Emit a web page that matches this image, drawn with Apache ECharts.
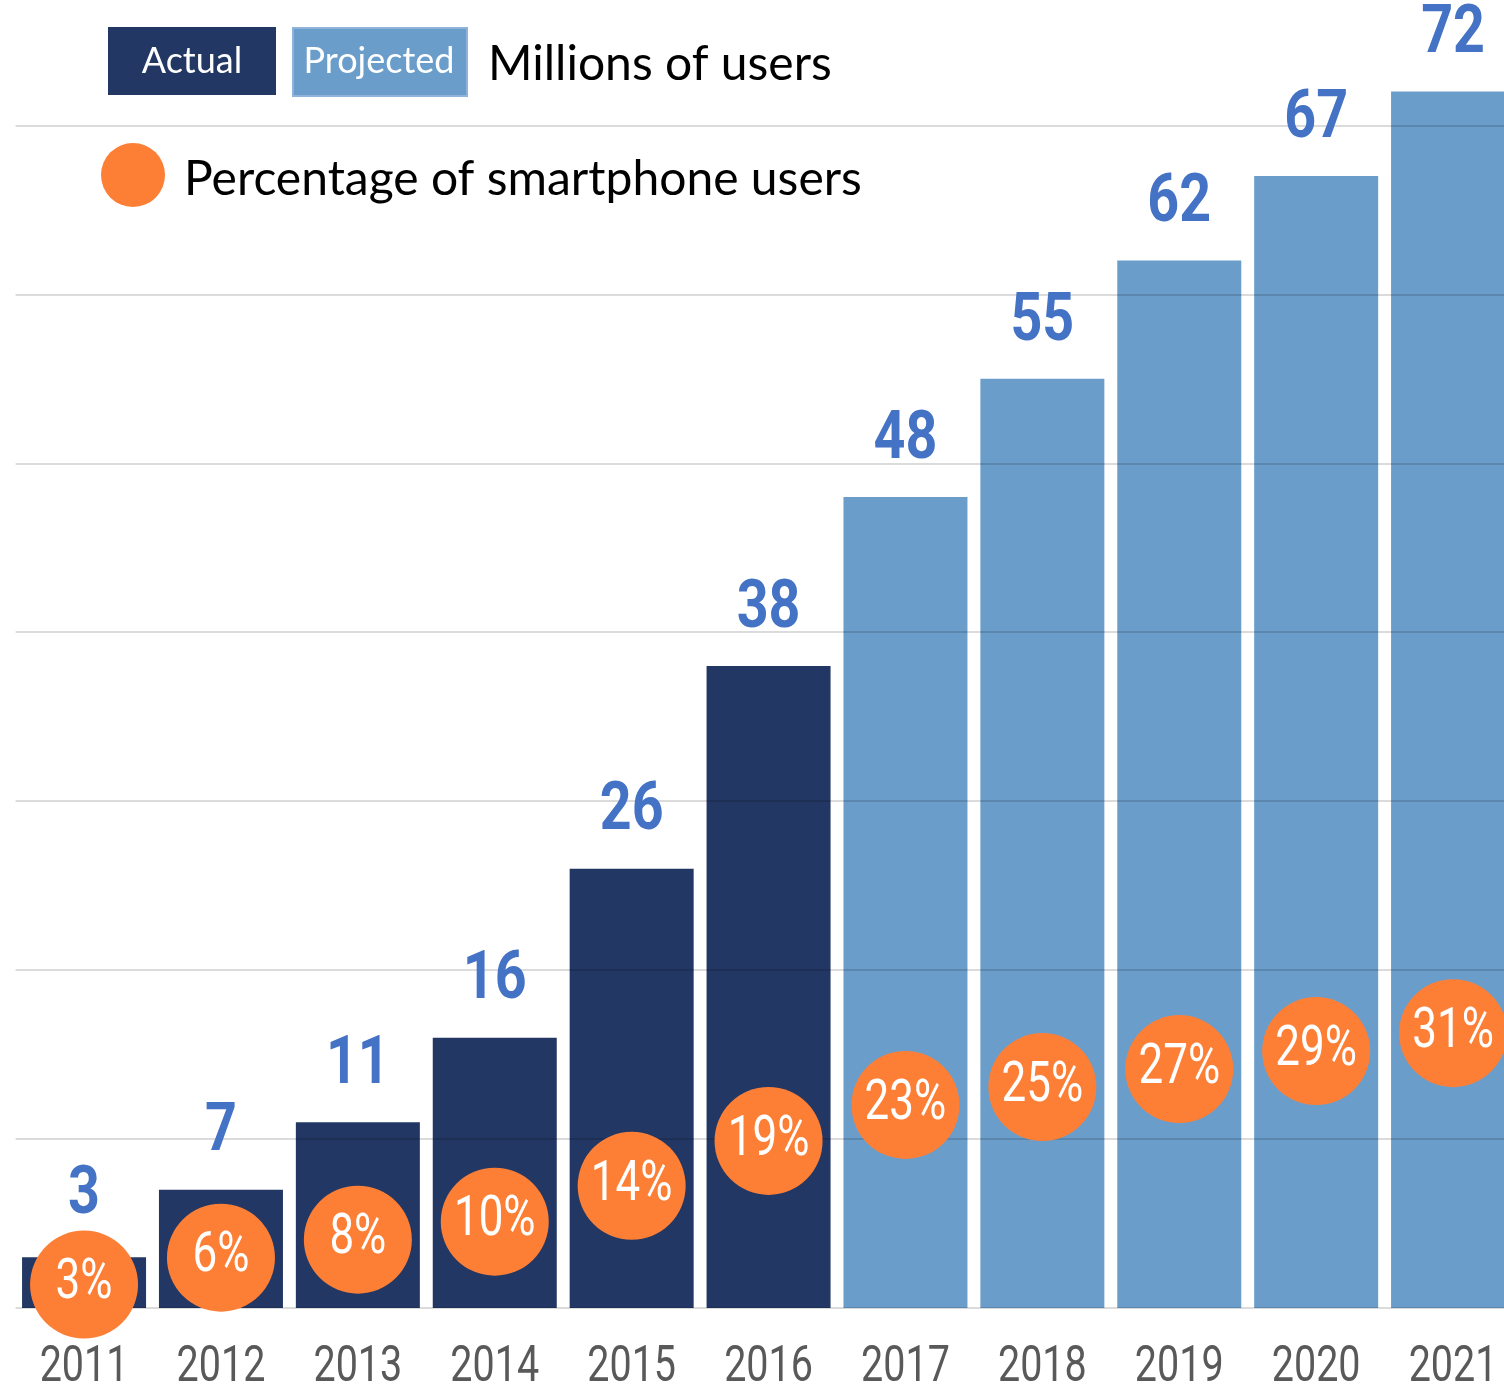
<!DOCTYPE html>
<html>
<head>
<meta charset="utf-8">
<script src="https://cdn.jsdelivr.net/npm/echarts@6/dist/echarts.min.js"></script>
<style>
html,body{margin:0;padding:0;background:#fff;}
#chart{width:1504px;height:1388px;}
</style>
</head>
<body>
<div id="chart"></div>
<script>
const years = ['2011','2012','2013','2014','2015','2016','2017','2018','2019','2020','2021'];
const actualUsers = [3, 7, 11, 16, 26, 38, null, null, null, null, null];
const projectedUsers = [null, null, null, null, null, null, 48, 55, 62, 67, 72];
const smartphonePct = [3, 6, 8, 10, 14, 19, 23, 25, 27, 29, 31];
const yTicksInterval = 10;

const NAVY = '#223763';
const LIGHT = '#6b9dcb';
const LABEL_BLUE = '#4472c4';
const ORANGE = '#fd7f36';
const COND = 'Roboto, "Liberation Sans", sans-serif';
const SANS = 'Lato, "Open Sans", sans-serif';

// axis ranges
const Y0 = {min: 0, max: 76};
const Y1 = {min: 0.39, max: 143.39};
const X = {min: -0.5, max: 10.372};

const users = years.map((y, i) => actualUsers[i] != null ? actualUsers[i] : projectedUsers[i]);
const pctToPrimary = p => (p - Y1.min) / (Y1.max - Y1.min) * (Y0.max - Y0.min) + Y0.min;

const chart = echarts.init(document.getElementById('chart'), null, {renderer: 'canvas'});

chart.setOption({
  animation: false,
  backgroundColor: '#ffffff',
  grid: {left: 15.6, right: 0, top: 24, bottom: 80, containLabel: false, outerBoundsMode: 'none'},
  xAxis: {
    type: 'value', min: X.min, max: X.max,
    axisTick: {show: false}, axisLine: {show: false}, axisLabel: {show: false}, splitLine: {show: false}
  },
  yAxis: [
    {
      type: 'value', min: Y0.min, max: Y0.max, interval: yTicksInterval, z: 3,
      axisLabel: {show: false}, axisLine: {show: false}, axisTick: {show: false},
      splitLine: {show: true, showMaxLine: false, showMinLine: true, lineStyle: {color: 'rgba(0,0,0,0.14)', width: 2}}
    },
    {
      type: 'value', min: Y1.min, max: Y1.max, show: false, splitLine: {show: false}
    }
  ],
  series: [
    {
      name: 'Actual', type: 'bar', data: actualUsers.map((v, i) => [i, v]), barWidth: 124, barGap: '-100%',
      itemStyle: {color: NAVY}, z: 2
    },
    {
      name: 'Projected', type: 'bar', data: projectedUsers.map((v, i) => [i, v]), barWidth: 124, barGap: '-100%',
      itemStyle: {color: LIGHT}, z: 2
    },
    {
      name: 'Percentage of smartphone users', type: 'scatter', yAxisIndex: 1,
      data: smartphonePct.map((v, i) => [i, v]), symbol: 'circle', symbolSize: 108, z: 10,
      itemStyle: {color: ORANGE, opacity: 1}
    },
    {
      name: 'valueLabels', type: 'custom', yAxisIndex: 0, clip: false, z: 20, silent: true,
      data: users.map((v, i) => [i, v, smartphonePct[i]]),
      encode: {x: 0, y: 1},
      renderItem: function (params, api) {
        const i = api.value(0);
        const top = api.coord([i, api.value(1)]);
        const circ = api.coord([i, pctToPrimary(api.value(2))]);
        const base = api.coord([i, 0]);
        const cy = Math.min(top[1] - 60, circ[1] - 92);
        return {
          type: 'group',
          children: [
            {
              type: 'text', x: top[0], y: cy + 4, scaleX: 0.83,
              style: {text: String(api.value(1)), fill: LABEL_BLUE, font: 'bold 67px ' + COND, align: 'center', verticalAlign: 'middle'}
            },
            {
              type: 'text', x: base[0], y: base[1] + 60, scaleX: 0.79,
              style: {text: years[i], fill: '#595959', font: '50px ' + COND, align: 'center', verticalAlign: 'middle'}
            }
          ]
        };
      }
    },
    {
      name: 'pctLabels', type: 'custom', yAxisIndex: 1, clip: false, z: 20, silent: true,
      data: smartphonePct.map((v, i) => [i, v]),
      encode: {x: 0, y: 1},
      renderItem: function (params, api) {
        const i = api.value(0);
        const c = api.coord([i, api.value(1)]);
        return {
          type: 'text', x: c[0], y: c[1], scaleX: 0.8,
          style: {text: api.value(1) + '%', fill: '#ffffff', font: '55px ' + COND, align: 'center', verticalAlign: 'middle'}
        };
      }
    }
  ],
  graphic: [
    {type: 'rect', left: 108, top: 27, shape: {width: 168, height: 68}, style: {fill: NAVY}},
    {type: 'text', x: 192, y: 61, style: {text: 'Actual', fill: '#ffffff', font: '36px ' + SANS, textAlign: 'center', textVerticalAlign: 'middle'}},
    {type: 'rect', left: 292, top: 27, shape: {width: 174, height: 68}, style: {fill: LIGHT, stroke: '#8fb3da', lineWidth: 2}},
    {type: 'text', x: 379, y: 61, style: {text: 'Projected', fill: '#ffffff', font: '36px ' + SANS, textAlign: 'center', textVerticalAlign: 'middle'}},
    {type: 'text', x: 488, y: 65, style: {text: 'Millions of users', fill: '#000000', font: '48px ' + SANS, textAlign: 'left', textVerticalAlign: 'middle'}},
    {type: 'circle', shape: {cx: 133, cy: 175, r: 32}, style: {fill: ORANGE}},
    {type: 'text', x: 184, y: 180, style: {text: 'Percentage of smartphone users', fill: '#000000', font: '48px ' + SANS, textAlign: 'left', textVerticalAlign: 'middle'}}
  ]
});
</script>
</body>
</html>
